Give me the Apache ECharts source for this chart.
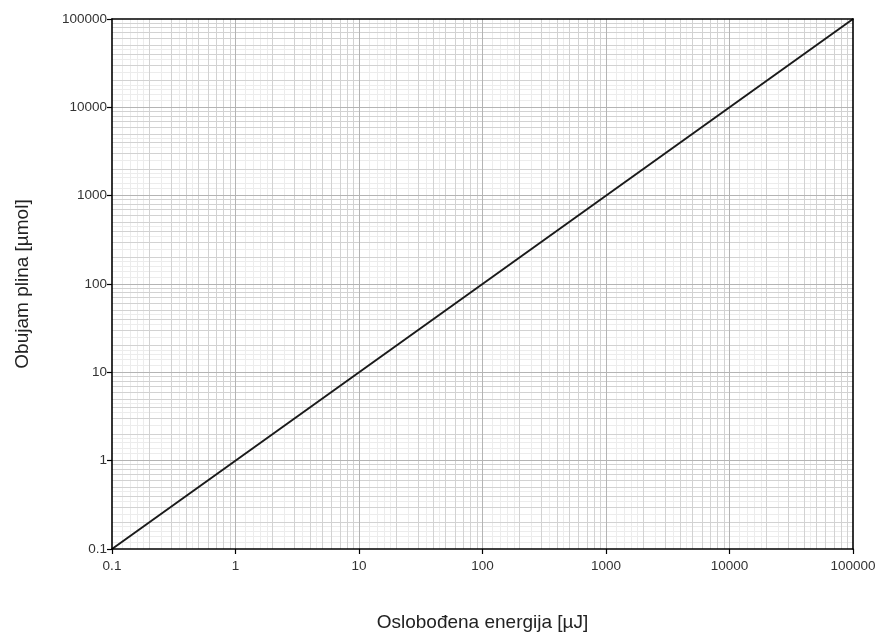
<!DOCTYPE html>
<html>
<head>
<meta charset="utf-8">
<script src="https://cdn.jsdelivr.net/npm/echarts@6/dist/echarts.min.js"></script>
<style>html,body{margin:0;padding:0;background:#fff;}#c{width:889px;height:638px;}</style>
</head>
<body>
<div id="c"></div>
<script>
// Data
const energy = [0.1, 100000];      // x: Oslobođena energija [µJ]
const gasVolume = [0.1, 100000];   // y: Obujam plina [µmol]
const decades = [0.1, 1, 10, 100, 1000, 10000, 100000];
const tickLabels = ['0.1', '1', '10', '100', '1000', '10000', '100000'];
const minorFactors = [2, 3, 4, 5, 6, 7, 8, 9];
const fineFactors = [1.2, 1.4, 1.6, 1.8, 2.5, 3.5, 4.5];

const majorVals = decades.slice(1, decades.length - 1);
const minorVals = [], fineVals = [];
for (let i = 0; i < decades.length - 1; i++) {
  minorFactors.forEach(f => minorVals.push(+(decades[i] * f).toPrecision(6)));
  fineFactors.forEach(f => fineVals.push(+(decades[i] * f).toPrecision(6)));
}
const labelMap = {};
decades.forEach((d, i) => labelMap[d.toPrecision(6)] = tickLabels[i]);

function gridSeries(vals, color, width) {
  const data = [];
  vals.forEach(v => { data.push({ xAxis: v }); data.push({ yAxis: v }); });
  return {
    type: 'line', data: [], silent: true, z: 1,
    markLine: { silent: true, symbol: ['none', 'none'], label: { show: false },
      lineStyle: { color: color, width: width, type: 'solid' },
      emphasis: { disabled: true }, animation: false, data: data }
  };
}

const chart = echarts.init(document.getElementById('c'), null, { renderer: 'canvas' });
const axisCommon = {
  type: 'log', logBase: 10, min: 0.1, max: 100000, z: 10,
  axisLine: { show: true, lineStyle: { color: '#000', width: 1.6 } },
  axisTick: { show: true, length: 5, lineStyle: { color: '#000', width: 1.2 } },
  splitLine: { show: false },
  minorTick: { show: false },
  axisLabel: { color: '#333', fontSize: 13.5, fontFamily: 'Liberation Sans, Arial, sans-serif',
    formatter: v => labelMap[(+v).toPrecision(6)] || '' },
  nameLocation: 'middle',
  nameTextStyle: { color: '#222', fontSize: 19, fontFamily: 'Liberation Sans, Arial, sans-serif' }
};
const borderAxis = {
  type: 'log', logBase: 10, min: 0.1, max: 100000, z: 10,
  axisLine: { show: true, lineStyle: { color: '#000', width: 1.6 } },
  axisTick: { show: false }, axisLabel: { show: false }, splitLine: { show: false }
};
chart.setOption({
  animation: false,
  grid: { left: 112, right: 36, top: 19, bottom: 89, show: false },
  xAxis: [
    Object.assign({}, axisCommon, { name: 'Oslobođena energija [µJ]', nameGap: 64,
      axisLabel: Object.assign({}, axisCommon.axisLabel, { margin: 10 }) }),
    Object.assign({}, borderAxis, { position: 'top' })
  ],
  yAxis: [
    Object.assign({}, axisCommon, { name: 'Obujam plina [µmol]', nameGap: 80,
      axisLabel: Object.assign({}, axisCommon.axisLabel, { margin: 5 }) }),
    Object.assign({}, borderAxis, { position: 'right' })
  ],
  series: [
    gridSeries(fineVals, '#ececec', 1),
    gridSeries(minorVals, '#d2d2d2', 1),
    gridSeries(majorVals, '#b4b4b4', 1),
    {
      type: 'line', z: 5, symbol: 'none',
      data: energy.map((x, i) => [x, gasVolume[i]]),
      lineStyle: { color: '#1a1a1a', width: 2 }
    }
  ]
});
</script>
</body>
</html>
